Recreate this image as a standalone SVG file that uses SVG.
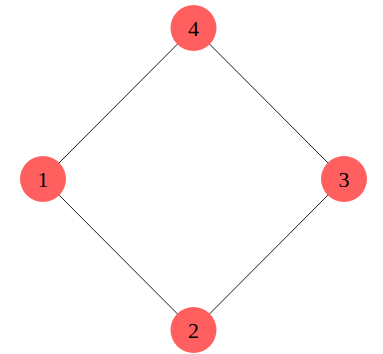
<svg xmlns="http://www.w3.org/2000/svg" width="383" height="354" viewBox="0 0 383 354">
<style>
.n{fill:#ff5f5f}
.t{font-family:"Liberation Serif","DejaVu Serif",serif;font-size:22px;fill:#000;text-anchor:middle;dominant-baseline:central}
.e{stroke:#000;stroke-width:0.9;fill:none}
</style>
<rect width="383" height="354" fill="#fff"/>
<g id="edges">
<line class="e" x1="193.5" y1="28" x2="43" y2="179"/>
<line class="e" x1="193.5" y1="28" x2="344" y2="179"/>
<line class="e" x1="43" y1="179" x2="193.5" y2="330"/>
<line class="e" x1="344" y1="179" x2="193.5" y2="330"/>
</g>
<g id="node4"><circle class="n" cx="193.5" cy="28" r="23"/><text class="t" x="193.5" y="28">4</text></g>
<g id="node1"><circle class="n" cx="43" cy="179" r="23"/><text class="t" x="43" y="179">1</text></g>
<g id="node3"><circle class="n" cx="344" cy="179" r="23"/><text class="t" x="344" y="179">3</text></g>
<g id="node2"><circle class="n" cx="193.5" cy="330" r="23"/><text class="t" x="193.5" y="330">2</text></g>
</svg>
